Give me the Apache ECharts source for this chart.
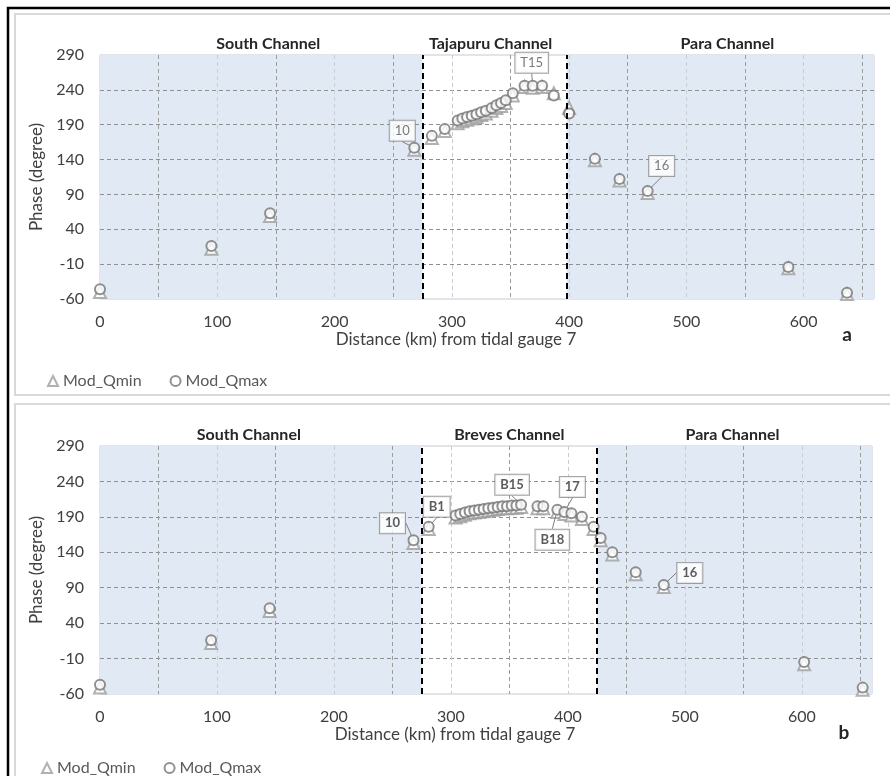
<!DOCTYPE html>
<html>
<head>
<meta charset="utf-8">
<script src="https://cdn.jsdelivr.net/npm/echarts@6/dist/echarts.min.js"></script>
<style>
  html, body { margin: 0; padding: 0; background: #ffffff; }
  #chart { width: 890px; height: 776px; }
</style>
</head>
<body>
<div id="chart"></div>
<script>
// ---- data -------------------------------------------------------------
// Panel a: South -> Tajapuru -> Para channels
const topDist = [0, 95, 145, 268, 283, 294, 305, 309, 313, 317, 321, 325, 329, 334, 338, 342, 346, 352, 362, 369, 377, 387, 400, 422, 443, 467, 587, 637];
const topQmax = [-46, 16, 63, 157, 174, 184, 196, 199, 201, 203, 205, 208, 210, 214, 218, 221, 225, 235, 246, 246, 246, 232, 206, 141, 112, 95, -14, -51];
const topQmin = [-50, 12, 59, 154, 171, 181, 192, 195, 197, 199, 201, 204, 206, 210, 214, 217, 221, 232, 244, 243, 244, 235, 214, 139, 110, 92, -16, -53];
const topGauges = [[268, '10'], [369, 'T15'], [467, '16']];
const topChannels = [[0, 275, 'South Channel'], [275, 398, 'Tajapuru Channel'], [398, 660, 'Para Channel']];
const topDividers = [275, 398];

// Panel b: South -> Breves -> Para channels
const botDist = [0, 95, 145, 268, 281, 304, 308, 312, 316, 320, 324, 328, 332, 336, 340, 344, 348, 352, 356, 360, 374, 379, 391, 397, 403, 412, 422, 428, 438, 458, 482, 602, 652];
const botQmax = [-47, 16, 61, 157, 176, 192, 194, 196, 198, 199, 200, 201, 202, 203, 204, 205, 205, 206, 206, 207, 205, 205, 200, 197, 195, 190, 176, 160, 140, 112, 94, -15, -51];
const botQmin = [-51, 12, 57, 153, 173, 189, 191, 193, 195, 196, 197, 198, 199, 200, 201, 202, 202, 203, 203, 204, 202, 202, 197, 194, 192, 187, 173, 157, 137, 109, 91, -18, -54];
const botGauges = [[268, '10'], [281, 'B1'], [360, 'B15'], [397, '17'], [391, 'B18'], [482, '16']];
const botChannels = [[0, 275, 'South Channel'], [275, 425, 'Breves Channel'], [425, 660, 'Para Channel']];
const botDividers = [275, 425];

// axes
const yTicks = [-60, -10, 40, 90, 140, 190, 240, 290];
const xTickLabels = [0, 100, 200, 300, 400, 500, 600];
const xRange = [0, 660];

// ---- styling / layout -------------------------------------------------
const FONT = 'Lato, "Open Sans", sans-serif';
const TEXT = '#404040';
const SHADE = '#e1e9f5';

// callout offsets (px) from each tagged point to its box centre
const tagOffsets = [
  { '10': [-12, -17], 'T15': [-1, -23], '16': [14, -25] },
  { '10': [-21, -17], 'B1': [8, -20], 'B15': [-9, -20], '17': [8, -25], 'B18': [-5, 30], '16': [26, -12] }
];
// horizontal nudge of each channel title from the channel centre
const titleNudge = [[7, -4, 7], [-12, 0, -2]];

const grids = [
  { left: 100, right: 16, top: 55, height: 244 },
  { left: 100, right: 18, top: 446, height: 248 }
];

const panels = [
  { dist: topDist, qmin: topQmin, qmax: topQmax, gauges: topGauges, channels: topChannels, dividers: topDividers, bold: false },
  { dist: botDist, qmin: botQmin, qmax: botQmax, gauges: botGauges, channels: botChannels, dividers: botDividers, bold: true }
];

function xAxisFor(i) {
  return {
    type: 'value', gridIndex: i, min: xRange[0], max: xRange[1], interval: 50, z: 1,
    axisLine: { show: false }, axisTick: { show: false },
    axisLabel: {
      interval: 0, margin: 15, color: TEXT, fontSize: 16, fontFamily: FONT,
      formatter: v => xTickLabels.indexOf(v) >= 0 ? String(v) : ''
    },
    splitLine: { show: true, showMinLine: false, showMaxLine: false,
      lineStyle: { color: ['#9c9c9c', '#c9ccd1'], type: [4, 3], width: 1 } },
    name: 'Distance (km) from tidal gauge 7', nameLocation: 'middle', nameGap: 31,
    nameTextStyle: { fontSize: 17, color: TEXT, fontFamily: FONT, padding: [0, 62, 0, 0] }
  };
}

function yAxisFor(i) {
  return {
    type: 'value', gridIndex: i, min: yTicks[0], max: yTicks[yTicks.length - 1],
    interval: yTicks[1] - yTicks[0], z: 1,
    axisLine: { show: false }, axisTick: { show: false },
    axisLabel: { margin: 16, color: TEXT, fontSize: 16, fontFamily: FONT },
    splitLine: { show: true, showMinLine: false, showMaxLine: false,
      lineStyle: { color: '#8f8f8f', type: [4, 3], width: 1 } },
    name: 'Phase (degree)', nameLocation: 'middle', nameGap: 50,
    nameTextStyle: { fontSize: 17, color: TEXT, fontFamily: FONT }
  };
}

// shaded channel bands and their titles
function channelSeries(i) {
  const p = panels[i];
  return {
    type: 'custom', xAxisIndex: i, yAxisIndex: i, z: 0, silent: true, clip: false,
    data: p.channels.map(c => [c[0], c[1]]),
    renderItem(params, api) {
      const idx = params.dataIndex;
      const ch = p.channels[idx];
      const a = api.coord([api.value(0), yTicks[yTicks.length - 1]]);
      const b = api.coord([api.value(1), yTicks[0]]);
      const kids = [];
      if (idx !== 1) {
        kids.push({ type: 'rect', shape: { x: a[0], y: a[1], width: b[0] - a[0], height: b[1] - a[1] },
          style: { fill: SHADE } });
      }
      kids.push({ type: 'text', x: (a[0] + b[0]) / 2 + titleNudge[i][idx], y: a[1] - 11,
        style: { text: ch[2], font: 'bold 16px ' + FONT, fill: '#262626', align: 'center', verticalAlign: 'middle' } });
      return { type: 'group', children: kids };
    }
  };
}

function pointsFor(p, values, withTags) {
  return p.dist.map((d, k) => {
    const item = { value: [d, values[k]] };
    if (withTags) {
      const tag = p.gauges.find(g => g[0] === d);
      if (tag) {
        item.name = tag[1];
        item.label = { show: true };
        item.labelLine = { show: true };
      }
    }
    return item;
  });
}

function markerSeries(i) {
  const p = panels[i];
  const offs = tagOffsets[i];
  return [
    {
      name: 'Mod_Qmin', type: 'scatter', xAxisIndex: i, yAxisIndex: i,
      symbol: 'emptyTriangle', symbolSize: 12, z: 2,
      itemStyle: { color: '#9d9d9d', borderWidth: 2 },
      data: pointsFor(p, p.qmin, false)
    },
    {
      name: 'Mod_Qmax', type: 'scatter', xAxisIndex: i, yAxisIndex: i,
      symbol: 'emptyCircle', symbolSize: 10, z: 3,
      itemStyle: { color: '#767676', borderWidth: 2.2 },
      label: {
        show: false, position: 'inside', formatter: '{b}',
        fontFamily: FONT, fontSize: 13, fontWeight: p.bold ? 'bold' : 'normal',
        color: p.bold ? '#333333' : '#595959',
        backgroundColor: '#ffffff', borderColor: '#8a8a8a', borderWidth: 1,
        padding: [4, 5, 3, 5]
      },
      labelLine: { show: false, lineStyle: { color: '#7f7f7f', width: 1 } },
      labelLayout: params => {
        const o = offs[params.text];
        return o ? { dx: o[0], dy: o[1] } : {};
      },
      markLine: {
        silent: true, symbol: 'none', animation: false,
        label: { show: false },
        lineStyle: { color: '#000000', type: [6, 4], width: 2 },
        data: p.dividers.map(x => ({ xAxis: x }))
      },
      data: pointsFor(p, p.qmax, true)
    }
  ];
}

const legendCommon = {
  orient: 'horizontal', itemWidth: 10, itemHeight: 10, itemGap: 28,
  textStyle: { color: '#595959', fontSize: 16, fontFamily: FONT },
  data: ['Mod_Qmin', 'Mod_Qmax'], selectedMode: false
};

const chart = echarts.init(document.getElementById('chart'), null, { renderer: 'canvas' });
chart.setOption({
  animation: false,
  backgroundColor: '#ffffff',
  textStyle: { fontFamily: FONT },
  grid: grids.map(g => Object.assign({ show: true, borderColor: '#c3c9d2', borderWidth: 1,
    backgroundColor: 'transparent', containLabel: false, outerBoundsMode: 'none' }, g)),
  xAxis: [xAxisFor(0), xAxisFor(1)],
  yAxis: [yAxisFor(0), yAxisFor(1)],
  legend: [
    Object.assign({ left: 42, top: 368 }, legendCommon),
    Object.assign({ left: 36, top: 755 }, legendCommon)
  ],
  series: [channelSeries(0), channelSeries(1)].concat(markerSeries(0), markerSeries(1)),
  graphic: [
    // page frame and panel borders
    { type: 'polyline', shape: { points: [[8, 790], [8, 8], [900, 8]] },
      style: { stroke: '#000000', lineWidth: 2.5, fill: null }, silent: true },
    { type: 'rect', shape: { x: 15, y: 14, width: 890, height: 381 },
      style: { stroke: '#d9d9d9', lineWidth: 2, fill: null }, silent: true },
    { type: 'rect', shape: { x: 15, y: 404, width: 890, height: 400 },
      style: { stroke: '#d9d9d9', lineWidth: 2, fill: null }, silent: true },
    { type: 'text', x: 847, y: 335, style: { text: 'a', font: 'bold 19px ' + FONT, fill: '#262626', align: 'center', verticalAlign: 'middle' } },
    { type: 'text', x: 844, y: 733, style: { text: 'b', font: 'bold 19px ' + FONT, fill: '#262626', align: 'center', verticalAlign: 'middle' } }
  ]
});
</script>
</body>
</html>
